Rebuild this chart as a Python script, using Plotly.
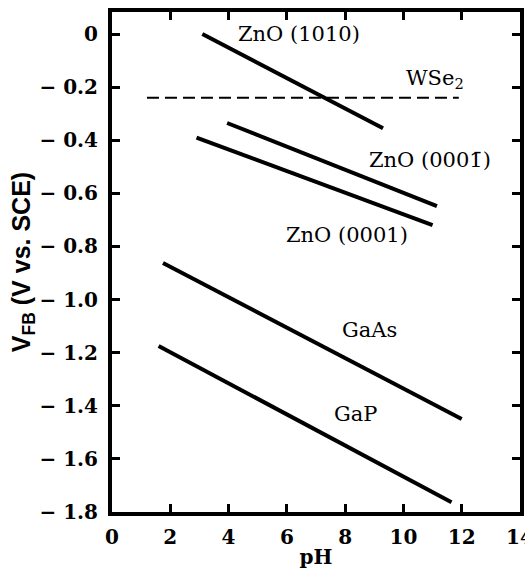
import plotly.graph_objects as go

# Flat-band potential vs pH for several semiconductors
ph_zno_1010 = [3.1, 9.3]
vfb_zno_1010 = [0.0, -0.355]

ph_wse2 = [1.2, 11.9]
vfb_wse2 = [-0.24, -0.24]

ph_zno_000m1 = [3.95, 11.15]
vfb_zno_000m1 = [-0.335, -0.648]

ph_zno_0001 = [2.9, 11.0]
vfb_zno_0001 = [-0.39, -0.72]

ph_gaas = [1.75, 12.0]
vfb_gaas = [-0.862, -1.45]

ph_gap = [1.6, 11.65]
vfb_gap = [-1.175, -1.763]

# Curve labels: text, x, y
label_text = ["ZnO (1010)", "WSe<sub>2</sub>", "ZnO (0001\u0304)", "ZnO (0001)", "GaAs", "GaP"]
label_x = [6.4, 11.1, 10.9, 8.05, 8.85, 8.35]
label_y = [0.0, -0.17, -0.475, -0.757, -1.115, -1.43]

x_ticks = [0, 2, 4, 6, 8, 10, 12, 14]
y_ticks = [0, -0.2, -0.4, -0.6, -0.8, -1.0, -1.2, -1.4, -1.6, -1.8]
y_ticktext = ["0"] + ["\u2212 %.1f" % abs(v) for v in y_ticks[1:]]

fig = go.Figure()

solid = dict(color="black", width=4)
for xs, ys in [(ph_zno_1010, vfb_zno_1010), (ph_zno_000m1, vfb_zno_000m1),
               (ph_zno_0001, vfb_zno_0001), (ph_gaas, vfb_gaas), (ph_gap, vfb_gap)]:
    fig.add_trace(go.Scatter(x=xs, y=ys, mode="lines", line=solid, showlegend=False))

fig.add_trace(go.Scatter(x=ph_wse2, y=vfb_wse2, mode="lines",
                         line=dict(color="black", width=2, dash="12px,6px"),
                         showlegend=False))

serif = dict(family="DejaVu Serif", size=21, color="black")
for t, x, y in zip(label_text, label_x, label_y):
    fig.add_annotation(x=x, y=y, text=t, showarrow=False, font=serif,
                       xanchor="center", yanchor="middle")

axis_common = dict(
    showline=True, linewidth=4, linecolor="black", mirror="ticks",
    ticks="inside", ticklen=8, tickwidth=3, tickcolor="black",
    showgrid=False, zeroline=False, ticklabeloverflow="allow", automargin=False,
    tickfont=dict(family="DejaVu Serif", size=20, color="black", weight="bold"),
)

fig.update_xaxes(range=[0, 14], tickvals=x_ticks, **axis_common,
                 ticklabelstandoff=4,
                 title=dict(text="pH", standoff=10,
                            font=dict(family="DejaVu Serif", size=20, color="black", weight="bold")))
fig.update_yaxes(range=[-1.8, 0.083], tickvals=y_ticks, ticktext=y_ticktext, **axis_common,
                 ticklabelstandoff=6,
                 title=dict(text="V<sub>FB</sub> (V vs. SCE)", standoff=0,
                            font=dict(family="Liberation Sans", size=25, color="black", weight="bold")))

fig.update_layout(
    width=525, height=569,
    margin=dict(l=112, r=5, t=12, b=57),
    plot_bgcolor="white", paper_bgcolor="white",
)

fig.write_html("out.html")
